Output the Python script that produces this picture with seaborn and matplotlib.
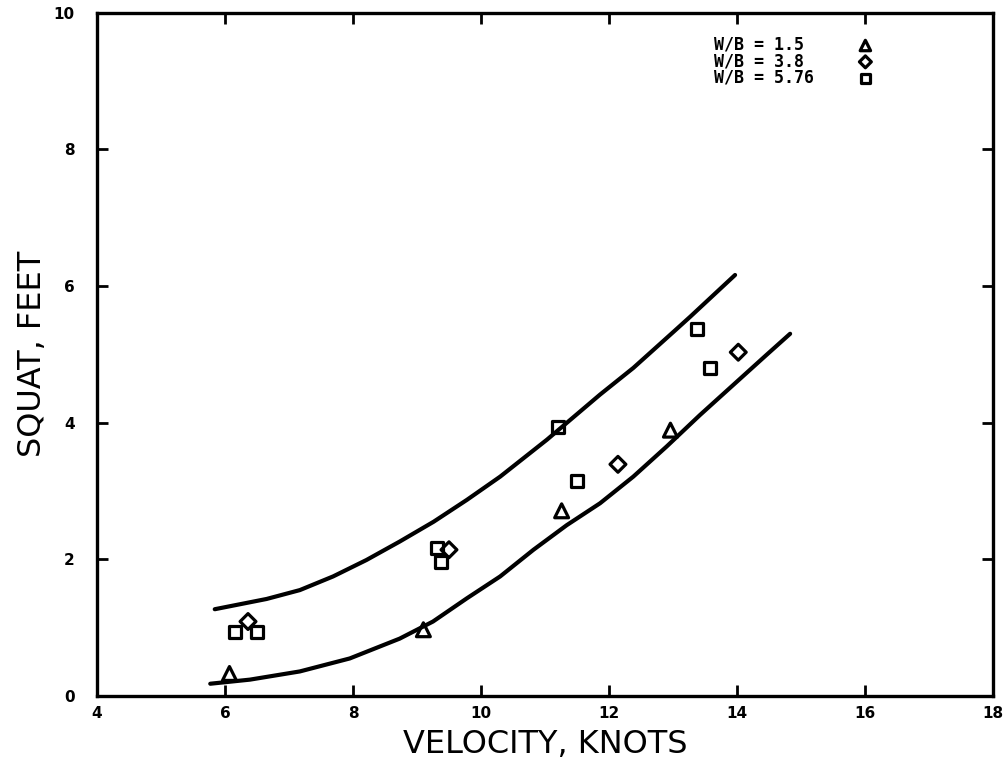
import matplotlib
matplotlib.use("Agg")
import matplotlib.pyplot as plt
import seaborn as sns

# Data (velocity in knots, squat in feet)
wb15_x = [6.07, 9.10, 11.26, 12.96]
wb15_y = [0.33, 0.97, 2.71, 3.89]

wb38_x = [6.36, 9.50, 12.14, 14.02]
wb38_y = [1.09, 2.14, 3.39, 5.03]

wb576_x = [6.16, 6.50, 9.31, 9.37, 11.20, 11.50, 13.38, 13.58]
wb576_y = [0.93, 0.93, 2.16, 1.96, 3.93, 3.15, 5.37, 4.80]

# envelope curves
upper_x = [5.84, 6.65, 7.17, 7.69, 8.21, 8.73, 9.26, 9.78, 10.30, 11.03, 11.86, 12.38, 13.01, 13.27, 13.97]
upper_y = [1.27, 1.42, 1.55, 1.75, 1.99, 2.26, 2.55, 2.87, 3.21, 3.75, 4.41, 4.80, 5.33, 5.55, 6.16]

lower_x = [5.77, 6.39, 7.17, 7.95, 8.73, 9.25, 9.78, 10.30, 10.82, 11.34, 11.86, 12.38, 12.90, 13.42, 13.94, 14.46, 14.83]
lower_y = [0.18, 0.24, 0.36, 0.55, 0.84, 1.09, 1.43, 1.75, 2.14, 2.50, 2.82, 3.21, 3.65, 4.11, 4.55, 4.99, 5.30]

labels = ["W/B = 1.5 ", "W/B = 3.8 ", "W/B = 5.76"]
x_ticks = [4, 6, 8, 10, 12, 14, 16, 18]
y_ticks = [0, 2, 4, 6, 8, 10]

sns.set_style("ticks")
plt.rcParams['font.family'] = ['DejaVu Sans']
plt.rcParams['text.color'] = 'black'
plt.rcParams['axes.labelcolor'] = 'black'
plt.rcParams['xtick.color'] = 'black'
plt.rcParams['ytick.color'] = 'black'

fig = plt.figure(figsize=(10.07, 7.72), dpi=100)
ax = fig.add_axes([0.0963, 0.0984, 0.8898, 0.8854])

sns.lineplot(x=upper_x, y=upper_y, color='black', linewidth=3, sort=False, estimator=None, ax=ax)
sns.lineplot(x=lower_x, y=lower_y, color='black', linewidth=3, sort=False, estimator=None, ax=ax)

mk = dict(facecolor='none', edgecolor='black', linewidth=2.3, zorder=5, ax=ax)
sns.scatterplot(x=wb15_x, y=wb15_y, marker='^', s=100, label=labels[0], **mk)
sns.scatterplot(x=wb38_x, y=wb38_y, marker='D', s=65, label=labels[1], **mk)
sns.scatterplot(x=wb576_x, y=wb576_y, marker='s', s=75, label=labels[2], **mk)

ax.set_xlim(4, 18)
ax.set_ylim(0, 10)
ax.set_xticks(x_ticks)
ax.set_yticks(y_ticks)
ax.tick_params(direction='in', top=True, right=True, length=8, width=2)
ax.tick_params(axis='x', pad=7)
ax.tick_params(axis='y', pad=16)
for t in ax.get_xticklabels() + ax.get_yticklabels():
    t.set_fontweight('bold')
    t.set_fontsize(11)
for s in ax.spines.values():
    s.set_linewidth(2.4)
    s.set_color('black')

ax.set_xlabel("VELOCITY, KNOTS", fontsize=23, labelpad=6)
ax.set_ylabel("SQUAT, FEET", fontsize=23, labelpad=4)

ax.legend(loc='upper left', bbox_to_anchor=(0.679, 0.978), frameon=False, markerfirst=False,
          prop={'family': 'DejaVu Sans Mono', 'weight': 'bold', 'size': 12},
          handletextpad=2.6, labelspacing=-0.1, borderpad=0, handlelength=1.0,
          markerscale=0.75)

fig.savefig("out.png", dpi=100)
